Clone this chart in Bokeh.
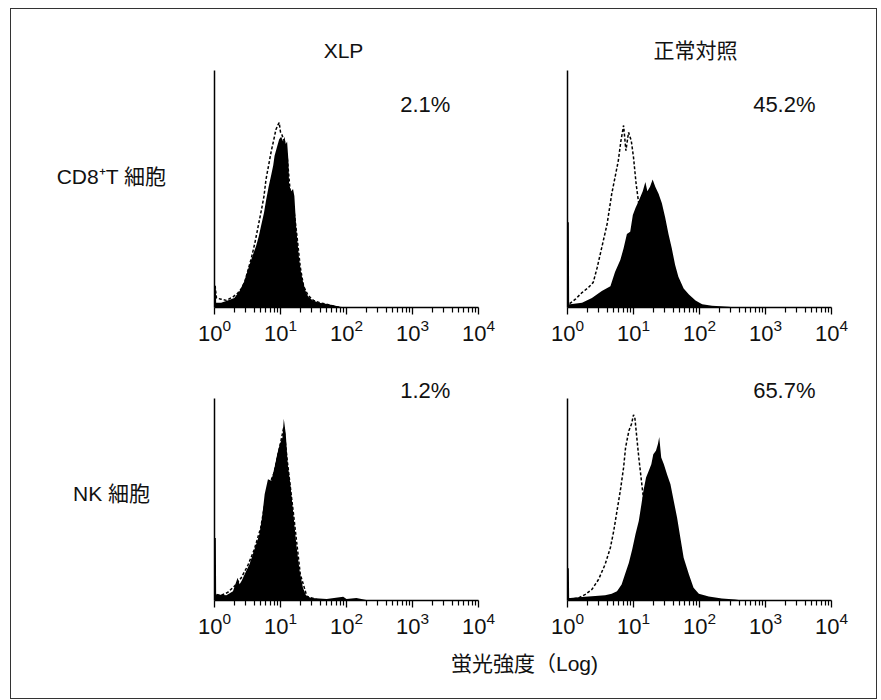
from bokeh.plotting import figure
from bokeh.models import Range1d, FixedTicker, LogTickFormatter
from bokeh.layouts import column, row
from bokeh.embed import file_html
from bokeh.resources import INLINE
from bokeh.core.properties import value

# ---------------- data (log10 channel, relative count) ----------------
col_titles = ["XLP", "正常対照"]
row_titles = ["CD8⁺T 細胞", "NK 細胞"]
x_label = "蛍光強度（Log)"
tick_values = [1, 10, 100, 1000, 10000]
percents = ["2.1%", "45.2%", "1.2%", "65.7%"]

tl_fill_log = [0.00, 0.02, 0.025, 0.10, 0.20, 0.30, 0.38, 0.45, 0.53, 0.58, 0.63, 0.67, 0.71, 0.75, 0.78,
               0.82, 0.86, 0.89, 0.91, 0.95, 0.98, 1.01, 1.04, 1.06, 1.08, 1.10, 1.12, 1.13, 1.16, 1.19,
               1.21, 1.24, 1.28, 1.31, 1.34, 1.38, 1.42, 1.49, 1.59, 1.70, 1.80, 1.90, 2.00]
tl_fill = [9, 9, 2, 2, 3, 4, 7, 11, 18, 22, 26, 30, 35, 40, 45, 51, 56, 60, 64, 68, 71, 72, 70, 72, 69,
           70, 62, 52, 49, 50, 47, 33, 21, 15, 11, 7, 4.5, 3, 2, 1.5, 1, 0.3, 0]
tl_dash_log = [0.00, 0.01, 0.03, 0.10, 0.18, 0.28, 0.35, 0.41, 0.46, 0.51, 0.56, 0.61, 0.66, 0.71, 0.75,
               0.78, 0.82, 0.86, 0.90, 0.93, 0.96, 0.98, 1.00, 1.02, 1.06, 1.10, 1.15, 1.20, 1.25, 1.30,
               1.35, 1.42, 1.50, 1.60, 1.75, 1.90]
tl_dash = [9, 9, 4, 3.5, 3, 4.5, 6, 8, 11, 16, 21, 27, 34, 41, 47, 54, 60, 66, 71, 75, 77, 78, 74, 73,
           70, 64, 48, 42, 30, 17, 9, 5, 3, 2, 1, 0]

tr_fill_log = [0.00, 0.02, 0.025, 0.04, 0.22, 0.37, 0.52, 0.65, 0.72, 0.80, 0.85, 0.90, 0.95, 0.99, 1.03,
               1.08, 1.14, 1.18, 1.21, 1.25, 1.29, 1.33, 1.38, 1.43, 1.48, 1.53, 1.58, 1.63, 1.68, 1.76,
               1.84, 1.94, 2.04, 2.19, 2.44, 2.55]
tr_fill = [36, 36, 1.4, 1.4, 2, 4, 7, 9, 15, 20, 25, 31, 32, 39, 42, 45, 49, 53, 49, 51, 54, 51, 48, 44,
           38, 31, 25, 18, 13, 8, 5.5, 3, 1.4, 0.7, 0.3, 0]
tr_dash_log = [0.00, 0.02, 0.12, 0.22, 0.32, 0.39, 0.45, 0.52, 0.60, 0.67, 0.72, 0.77, 0.81, 0.85, 0.885,
               0.925, 0.966, 1.00, 1.04, 1.08, 1.13, 1.20, 1.28, 1.38, 1.53, 1.73, 1.90]
tr_dash = [3, 1.4, 3.5, 6.3, 8.5, 10.6, 16.9, 25.4, 35.2, 47.9, 54.9, 62, 70.4, 76.8, 66.2, 73.9, 70.4,
           63.4, 52.1, 43.7, 30, 18, 9, 4, 1.5, 0.5, 0]

bl_fill_log = [0.00, 0.02, 0.025, 0.05, 0.18, 0.28, 0.35, 0.38, 0.41, 0.48, 0.53, 0.58, 0.63, 0.68, 0.72,
               0.76, 0.81, 0.86, 0.91, 0.95, 0.99, 1.03, 1.05, 1.08, 1.11, 1.15, 1.19, 1.24, 1.29, 1.34,
               1.39, 1.47, 1.70, 1.95, 2.00, 2.15, 2.30, 2.40]
bl_fill = [31, 31, 3, 3, 2.6, 4.6, 11.3, 8, 9.6, 14.6, 17.9, 22.8, 27.8, 32.8, 41, 52.6, 60.1, 59.3, 65.9,
           72.5, 77.5, 80.8, 90, 82.5, 67.5, 57.6, 44.4, 27.8, 14.6, 6.3, 2.2, 1.3, 0.8, 1.8, 0.8, 1.3,
           0.3, 0]
bl_dash_log = [0.00, 0.02, 0.10, 0.20, 0.30, 0.40, 0.50, 0.60, 0.70, 0.80, 0.90, 1.00, 1.05, 1.10, 1.20,
               1.30, 1.40, 1.60]
bl_dash = [5, 3, 2.5, 4, 7, 11, 17, 25, 36, 55, 63, 78, 86, 70, 42, 13, 2, 0]

br_fill_log = [0.00, 0.02, 0.025, 0.04, 0.22, 0.42, 0.57, 0.67, 0.75, 0.82, 0.87, 0.93, 0.98, 1.03, 1.08,
               1.12, 1.15, 1.19, 1.23, 1.27, 1.30, 1.34, 1.37, 1.39, 1.42, 1.46, 1.51, 1.56, 1.61, 1.66,
               1.71, 1.76, 1.84, 1.91, 1.99, 2.14, 2.34, 2.54, 2.65]
br_fill = [16, 16, 1.3, 1.3, 1.7, 2.2, 2.6, 3.3, 4.6, 7.9, 12.9, 18.7, 25.3, 32.8, 39.4, 47.7, 54.3, 60.9,
           64.2, 67.5, 72.5, 74.2, 77.5, 81, 70.9, 67.5, 62.3, 57.6, 49.3, 41.1, 31.1, 21.2, 12.9, 6.3,
           3.3, 2, 1, 0.5, 0]
br_dash_log = [0.02, 0.17, 0.27, 0.37, 0.47, 0.57, 0.65, 0.70, 0.75, 0.80, 0.85, 0.88, 0.93, 0.97, 1.00,
               1.02, 1.05, 1.08, 1.12, 1.15, 1.23, 1.33, 1.43, 1.63, 1.80]
br_dash = [0.5, 1.3, 3, 5.5, 10.4, 17.9, 26.2, 34.4, 44.4, 54.3, 65.9, 75.8, 84.1, 87.4, 92, 90.7, 80.8,
           70.9, 59.3, 51, 29.5, 11.3, 3, 1.3, 0]

# ---------------- styling ----------------
LATIN = "Liberation Sans"
MIX = "Liberation Sans, Noto Sans CJK JP"
INK = "#111111"
minor = [m * 10 ** d for d in range(4) for m in range(2, 10)]


def blank(width, height, xr, yr, top=0, bottom=0):
    p = figure(width=width, height=height, x_range=Range1d(*xr), y_range=Range1d(*yr),
               output_backend="svg", toolbar_location=None,
               min_border_left=0, min_border_right=0,
               min_border_top=top, min_border_bottom=bottom,
               x_axis_location=None, y_axis_location=None)
    p.outline_line_color = None
    p.grid.visible = False
    return p


def panel(width, left, right, top, bottom, height, ymax, fl, fv, dl, dv, pct, pct_y):
    p = figure(width=width, height=height, x_axis_type="log",
               x_range=Range1d(1, 10000), y_range=Range1d(0, ymax),
               output_backend="svg", toolbar_location=None,
               min_border_left=left, min_border_right=right,
               min_border_top=top, min_border_bottom=bottom)
    p.outline_line_color = None
    p.grid.visible = False
    p.varea(x=[10 ** v for v in fl], y1=0, y2=fv, fill_color="black")
    p.line(x=[10 ** v for v in dl], y=dv, line_color="black", line_width=1.5, line_dash="3 2")
    p.text(x=[650], y=[pct_y], text=[pct], text_font=value(LATIN), text_font_size="22px",
           text_align="left", text_baseline="middle", text_color=INK)
    xa = p.xaxis[0]
    xa.ticker = FixedTicker(ticks=tick_values, minor_ticks=minor)
    xa.formatter = LogTickFormatter()
    xa.major_label_text_font = LATIN
    xa.major_label_text_font_size = "22px"
    xa.major_label_text_color = INK
    xa.major_label_standoff = 4
    xa.axis_line_width = 1.5
    xa.axis_line_color = "black"
    xa.major_tick_in = 0
    xa.major_tick_out = 7
    xa.minor_tick_in = 0
    xa.minor_tick_out = 5
    xa.major_tick_line_width = 1.3
    xa.minor_tick_line_width = 1.2
    ya = p.yaxis[0]
    ya.ticker = FixedTicker(ticks=[], minor_ticks=[])
    ya.bounds = (0, 100)
    ya.axis_line_width = 1.5
    ya.axis_line_color = "black"
    ya.major_tick_line_color = None
    ya.minor_tick_line_color = None
    ya.major_tick_out = 0
    ya.major_tick_in = 0
    ya.minor_tick_out = 0
    return p


# header (page coordinates)
header = blank(865, 61, (11, 876), (70, 9))
header.text(x=[343, 695], y=[50, 50], text=col_titles, text_font=value(MIX), text_font_size="21px",
            text_align="center", text_baseline="middle", text_color=INK)

# top row: frame spans page y 70..307
lab1 = blank(179, 290, (11, 190), (307, 70), top=0, bottom=53)
lab1.text(x=[111], y=[176], text=[row_titles[0]], text_font=value(MIX), text_font_size="21px",
          text_align="center", text_baseline="middle", text_color=INK)
tl = panel(330, 24, 42, 0, 53, 290, 100, tl_fill_log, tl_fill, tl_dash_log, tl_dash, percents[0], 85.7)
tr = panel(356, 47, 45, 0, 53, 290, 100, tr_fill_log, tr_fill, tr_dash_log, tr_dash, percents[1], 85.7)

# bottom row: frame spans page y 380..600
lab2 = blank(179, 280, (11, 190), (600, 380), top=20, bottom=40)
lab2.text(x=[111], y=[493], text=[row_titles[1]], text_font=value(MIX), text_font_size="21px",
          text_align="center", text_baseline="middle", text_color=INK)
bl = panel(330, 24, 42, 20, 40, 280, 109, bl_fill_log, bl_fill, bl_dash_log, bl_dash, percents[2], 104)
br = panel(356, 47, 45, 20, 40, 280, 109, br_fill_log, br_fill, br_dash_log, br_dash, percents[3], 104)

# footer
footer = blank(865, 58, (11, 876), (698, 640))
footer.text(x=[524], y=[663], text=[x_label], text_font=value(MIX), text_font_size="21px",
            text_align="center", text_baseline="middle", text_color=INK)

layout = column(header, row(lab1, tl, tr), row(lab2, bl, br), footer,
                styles={"border": "1px solid #333333", "margin-left": "10px", "margin-top": "8px"})

open("out.html", "w").write(file_html(layout, INLINE))
